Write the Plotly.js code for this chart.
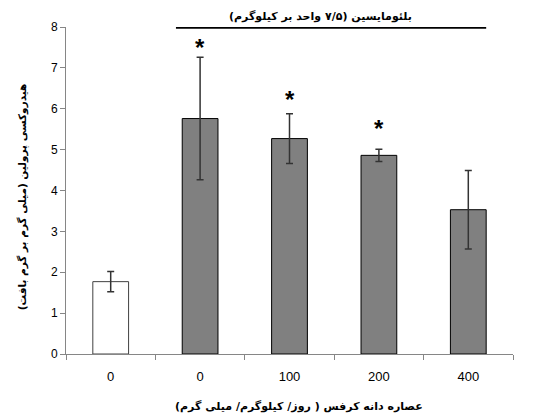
<!DOCTYPE html>
<html>
<head>
<meta charset="utf-8">
<script src="https://cdn.plot.ly/plotly-3.0.1.min.js"></script>
<style>body{margin:0;padding:0;background:#fff}#chart{width:534px;height:418px}</style>
</head>
<body>
<div id="chart"></div>
<script>
var categories = ["control", "bleo_0", "bleo_100", "bleo_200", "bleo_400"];
var tickLabels = ["0", "0", "100", "200", "400"];
var meanValues = [1.77, 5.76, 5.27, 4.86, 3.53];
var errorValues = [0.25, 1.5, 0.61, 0.15, 0.96];
var starLevels = [null, 7.62, 6.35, 5.64, null];
var barFill = ["#ffffff", "#808080", "#808080", "#808080", "#808080"];
var barEdge = ["#404040", "#000000", "#000000", "#000000", "#000000"];

var RLE = "\u202B", PDF = "\u202C";
var topLabel = "بلئومایسین (۷/۵ واحد بر کیلوگرم)";
var xTitle = "عصاره دانه کرفس ( روز/ کیلوگرم/ میلی گرم)";
var yTitle = "هیدروکسی پرولین (میلی گرم بر گرم بافت)";

var trace = {
  type: "bar",
  x: categories,
  y: meanValues,
  width: 0.4,
  marker: {color: barFill, line: {color: barEdge, width: 1}},
  error_y: {type: "data", array: errorValues, visible: true, color: "#333333", thickness: 1.5, width: 3.5},
  hoverinfo: "none"
};

var annotations = [];
for (var i = 0; i < categories.length; i++) {
  if (starLevels[i] !== null) {
    annotations.push({
      x: categories[i], y: starLevels[i], xref: "x", yref: "y",
      text: "<b>*</b>", showarrow: false, yanchor: "middle", yshift: -5,
      font: {family: "Liberation Sans", size: 24, color: "#000"}
    });
  }
}
annotations.push({
  xref: "paper", yref: "paper", x: 0.57, y: 1.0, yanchor: "bottom", yshift: 2,
  text: "<b>" + RLE + topLabel + PDF + "</b>", showarrow: false,
  font: {family: "DejaVu Sans", size: 11, color: "#000"}
});
annotations.push({
  xref: "paper", yref: "paper", x: 0.521, y: -0.162, xanchor: "center", yanchor: "middle",
  text: "<b>" + RLE + xTitle + PDF + "</b>", showarrow: false,
  font: {family: "DejaVu Sans", size: 11, color: "#000"}
});
annotations.push({
  xref: "paper", yref: "paper", x: -0.098, y: 0.48, xanchor: "center", yanchor: "middle",
  textangle: -90,
  text: "<b>" + RLE + yTitle + PDF + "</b>", showarrow: false,
  font: {family: "DejaVu Sans", size: 10.5, color: "#000"}
});

var layout = {
  width: 534, height: 418,
  margin: {l: 66, r: 21, t: 27, b: 64},
  paper_bgcolor: "#fff", plot_bgcolor: "#fff",
  showlegend: false,
  xaxis: {
    type: "category",
    tickmode: "array", tickvals: categories, ticktext: tickLabels,
    tickson: "boundaries",
    ticks: "outside", ticklen: 5, tickcolor: "#868686",
    ticklabelstandoff: 10,
    showline: true, linecolor: "#868686", linewidth: 1,
    showgrid: false, zeroline: false,
    tickfont: {family: "Liberation Sans", size: 13, color: "#000"},
    fixedrange: true
  },
  yaxis: {
    range: [0, 8], dtick: 1, tick0: 0,
    ticks: "outside", ticklen: 5, tickcolor: "#868686",
    showline: true, linecolor: "#868686", linewidth: 1,
    showgrid: false, zeroline: false,
    tickfont: {family: "Liberation Sans", size: 12, color: "#000"},
    fixedrange: true
  },
  shapes: [{
    type: "line", xref: "x", yref: "y",
    x0: 0.73, x1: 4.2, y0: 7.98, y1: 7.98,
    line: {color: "#000", width: 2}
  }],
  annotations: annotations
};

Plotly.newPlot("chart", [trace], layout, {displayModeBar: false, staticPlot: true});
</script>
</body>
</html>
